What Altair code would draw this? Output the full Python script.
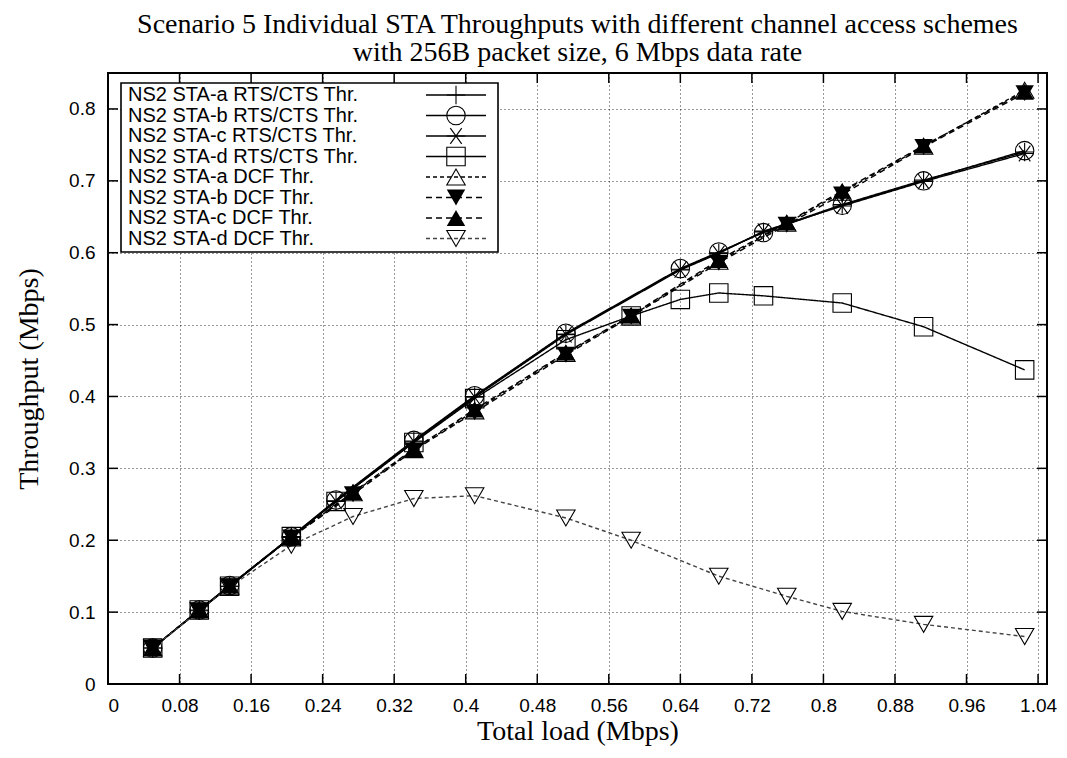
import altair as alt
import pandas as pd

# ---------------- data ----------------
labels = [
    "NS2 STA-a RTS/CTS Thr.",
    "NS2 STA-b RTS/CTS Thr.",
    "NS2 STA-c RTS/CTS Thr.",
    "NS2 STA-d RTS/CTS Thr.",
    "NS2 STA-a DCF Thr.",
    "NS2 STA-b DCF Thr.",
    "NS2 STA-c DCF Thr.",
    "NS2 STA-d DCF Thr.",
]

x_rts = [0.05, 0.102, 0.136, 0.205, 0.255, 0.342, 0.41, 0.512, 0.64, 0.683, 0.733, 0.821, 0.912, 1.025]
x_rts_d = [0.05, 0.102, 0.136, 0.205, 0.255, 0.342, 0.41, 0.512, 0.585, 0.64, 0.683, 0.733, 0.821, 0.912, 1.025]
x_dcf = [0.05, 0.102, 0.136, 0.205, 0.274, 0.342, 0.41, 0.512, 0.585, 0.683, 0.759, 0.821, 0.912, 1.025]

y_rts_a = [0.050, 0.103, 0.136, 0.205, 0.255, 0.338, 0.400, 0.487, 0.577, 0.600, 0.629, 0.667, 0.701, 0.740]
y_rts_b = [0.050, 0.103, 0.137, 0.205, 0.256, 0.339, 0.401, 0.488, 0.578, 0.601, 0.628, 0.666, 0.700, 0.742]
y_rts_c = [0.050, 0.102, 0.136, 0.204, 0.254, 0.337, 0.399, 0.486, 0.576, 0.599, 0.630, 0.665, 0.699, 0.738]
y_rts_d = [0.050, 0.103, 0.136, 0.205, 0.254, 0.336, 0.397, 0.479, 0.512, 0.535, 0.544, 0.540, 0.530, 0.497, 0.437]
y_dcf_a = [0.050, 0.103, 0.136, 0.205, 0.266, 0.326, 0.380, 0.460, 0.512, 0.588, 0.641, 0.684, 0.748, 0.826]
y_dcf_b = [0.050, 0.102, 0.136, 0.204, 0.264, 0.325, 0.378, 0.458, 0.511, 0.586, 0.639, 0.681, 0.747, 0.822]
y_dcf_c = [0.050, 0.103, 0.137, 0.205, 0.267, 0.327, 0.382, 0.461, 0.513, 0.590, 0.642, 0.686, 0.749, 0.824]
y_dcf_d = [0.050, 0.102, 0.135, 0.193, 0.233, 0.258, 0.262, 0.231, 0.200, 0.150, 0.122, 0.101, 0.083, 0.066]

series_x = [x_rts, x_rts, x_rts, x_rts_d, x_dcf, x_dcf, x_dcf, x_dcf]
series_y = [y_rts_a, y_rts_b, y_rts_c, y_rts_d, y_dcf_a, y_dcf_b, y_dcf_c, y_dcf_d]

x_ticks = [0, 0.08, 0.16, 0.24, 0.32, 0.4, 0.48, 0.56, 0.64, 0.72, 0.8, 0.88, 0.96, 1.04]
y_ticks = [0, 0.1, 0.2, 0.3, 0.4, 0.5, 0.6, 0.7, 0.8]

title_lines = [
    "Scenario 5 Individual STA Throughputs with different channel access schemes",
    "with 256B packet size, 6 Mbps data rate",
]

# ---------------- styles ----------------
PLUS = "M-1,0H1M0,-1V1"
ASTER = "M-1,0H1M-0.62,-0.85L0.62,0.85M-0.62,0.85L0.62,-0.85"
shapes = [PLUS, "circle", ASTER, "square", "triangle-up", "triangle-down", "triangle-up", "triangle-down"]
dashes = [[1, 0], [1, 0], [1, 0], [1, 0], [4, 3], [6, 4], [6, 4], [4, 3]]
widths = [1.4, 1.4, 1.4, 1.0, 1.0, 1.8, 1.8, 1.0]
colors = ["#000000"] * 7 + ["#444444"]
filled_series = [labels[5], labels[6]]

rows = []
for lab, xs, ys in zip(labels, series_x, series_y):
    for i, (xv, yv) in enumerate(zip(xs, ys)):
        rows.append({"series": lab, "load": xv, "thr": yv, "i": i})
df = pd.DataFrame(rows)

leg_df = pd.DataFrame({"series": labels, "row": list(range(len(labels)))})

W, H = 939, 611

shape_enc = alt.Shape("series:N", scale=alt.Scale(domain=labels, range=shapes), legend=None)
dash_enc = alt.StrokeDash("series:N", scale=alt.Scale(domain=labels, range=dashes), legend=None)
width_enc = alt.StrokeWidth("series:N", scale=alt.Scale(domain=labels, range=widths), legend=None)
color_enc = alt.Color("series:N", scale=alt.Scale(domain=labels, range=colors), legend=None)

axis_style = dict(
    labelFont="Liberation Sans", labelFontSize=19, labelColor="#000000",
    titleFont="Liberation Serif", titleFontSize=28, titleFontWeight="normal", titleColor="#000000",
    gridColor="#000000", gridDash=[1, 3], gridWidth=1, gridOpacity=0.8,
    grid=True, ticks=False, domain=False,
)

x_enc = alt.X(
    "load:Q",
    scale=alt.Scale(domain=[0, 1.05], nice=False, zero=False),
    axis=alt.Axis(values=x_ticks, format="~g", title="Total load (Mbps)",
                  labelPadding=12, titlePadding=2, **axis_style),
)
y_enc = alt.Y(
    "thr:Q",
    scale=alt.Scale(domain=[0, 0.85], nice=False),
    axis=alt.Axis(values=y_ticks, format="~g", title="Throughput (Mbps)",
                  labelPadding=13, titlePadding=25, **axis_style),
)

base = alt.Chart(df)
lines = base.mark_line().encode(
    x=x_enc, y=y_enc, order="i:Q", color=color_enc, strokeDash=dash_enc, strokeWidth=width_enc
)
open_pts = base.transform_filter(
    alt.FieldOneOfPredicate(field="series", oneOf=[l for l in labels if l not in filled_series])
).mark_point(filled=False, size=340, strokeWidth=1.1, opacity=1).encode(
    x="load:Q", y="thr:Q", shape=shape_enc, color=alt.value("#000000")
)
filled_pts = base.transform_filter(
    alt.FieldOneOfPredicate(field="series", oneOf=filled_series)
).mark_point(filled=True, size=340, opacity=1).encode(
    x="load:Q", y="thr:Q", shape=shape_enc, color=alt.value("#000000")
)

# inward tick marks on all four sides
xt = alt.Chart(pd.DataFrame({"load": x_ticks}))
yt = alt.Chart(pd.DataFrame({"thr": y_ticks}))
tick_style = dict(color="#000000", strokeWidth=1.5)
t_bottom = xt.mark_rule(**tick_style).encode(x="load:Q", y=alt.value(H), y2=alt.value(H - 10))
t_top = xt.mark_rule(**tick_style).encode(x="load:Q", y=alt.value(0), y2=alt.value(10))
t_left = yt.mark_rule(**tick_style).encode(y="thr:Q", x=alt.value(0), x2=alt.value(10))
t_right = yt.mark_rule(**tick_style).encode(y="thr:Q", x=alt.value(W), x2=alt.value(W - 10))

# legend (label on the left, line sample + marker on the right)
leg = alt.Chart(leg_df).transform_calculate(py="22 + 20.5 * datum.row")
leg_box = alt.Chart(pd.DataFrame({"k": [0]})).mark_rect(
    fill="white", stroke="#000000", strokeWidth=1.6
).encode(x=alt.value(13), x2=alt.value(390), y=alt.value(10), y2=alt.value(179))
leg_text = leg.mark_text(
    align="left", baseline="middle", font="Liberation Sans", fontSize=20, color="#000000"
).encode(x=alt.value(20), y=alt.Y("py:Q", scale=None), text="series:N")
leg_line = leg.mark_rule().encode(
    x=alt.value(318), x2=alt.value(378), y=alt.Y("py:Q", scale=None),
    color=color_enc, strokeDash=dash_enc, strokeWidth=width_enc,
)
leg_open = leg.transform_filter(
    alt.FieldOneOfPredicate(field="series", oneOf=[l for l in labels if l not in filled_series])
).mark_point(filled=False, size=340, strokeWidth=1.1, opacity=1).encode(
    x=alt.value(348), y=alt.Y("py:Q", scale=None), shape=shape_enc, color=alt.value("#000000")
)
leg_filled = leg.transform_filter(
    alt.FieldOneOfPredicate(field="series", oneOf=filled_series)
).mark_point(filled=True, size=340, opacity=1).encode(
    x=alt.value(348), y=alt.Y("py:Q", scale=None), shape=shape_enc, color=alt.value("#000000")
)

chart = alt.layer(
    lines, open_pts, filled_pts, t_bottom, t_top, t_left, t_right,
    leg_box, leg_text, leg_line, leg_open, leg_filled,
).properties(
    width=W, height=H,
    background="white",
    title=alt.Title(
        title_lines, font="Liberation Serif", fontSize=28, fontWeight="normal",
        lineHeight=28, color="#000000", anchor="middle", offset=5,
    ),
    autosize=alt.AutoSizeParams(type="none"),
    padding={"left": 100, "top": 65, "right": 12, "bottom": 66},
).configure_view(
    stroke="#000000", strokeWidth=2
)

chart.save("out.html", embed_options={"renderer": "svg", "actions": False})
